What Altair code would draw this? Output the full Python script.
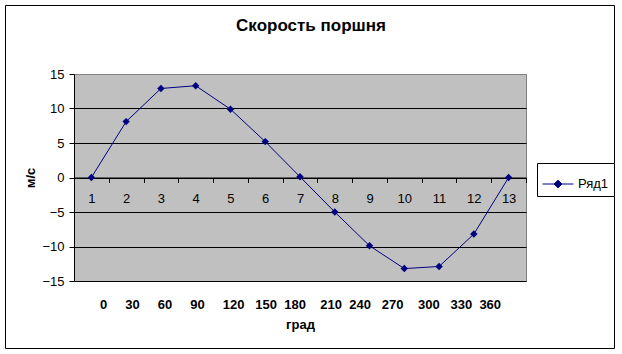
import altair as alt
import pandas as pd

# ---- data ----
categories = list(range(1, 14))
velocity = [0, 8.1, 12.9, 13.3, 9.9, 5.2, 0.1, -5.0, -9.9, -13.2, -12.9, -8.2, 0]
series_name = "Ряд1"
y_ticks = [-15, -10, -5, 0, 5, 10, 15]
deg_labels = ["0", "30", "60", "90", "120", "150", "180", "210", "240", "270", "300", "330", "360"]
deg_gaps = [5, 5, 5, 5, 3, 2, 4, 2, 3, 4, 3, 2]
chart_title = "Скорость поршня"
y_title = "м/с"
x_unit = "град"

NB = "\u00a0"
deg_line = deg_labels[0]
for g, lab in zip(deg_gaps, deg_labels[1:]):
    deg_line += NB * g + lab

df = pd.DataFrame({"n": categories, "v": velocity, "s": [series_name] * len(categories)})

FONT = "Liberation Sans"
NAVY = "#000080"
W, H = 452, 207

x_enc = alt.X(
    "n:O",
    scale=alt.Scale(type="band", paddingInner=0, paddingOuter=0),
    axis=alt.Axis(
        title=[deg_line, x_unit], offset=-H / 2, labelAngle=0, tickBand="extent",
        tickSize=5, tickColor="black", domainColor="black", labelPadding=10,
        labelFontSize=13, labelColor="black", labelFont=FONT,
        titleFont=FONT, titleFontSize=13, titleFontWeight="bold", titleColor="black",
        titleX=W / 2, titleY=121, titleBaseline="top", titleLineHeight=20, titleAlign="center",
        grid=False,
    ),
)
y_enc = alt.Y(
    "v:Q",
    scale=alt.Scale(domain=[-15, 15], nice=False, zero=False),
    axis=alt.Axis(
        values=y_ticks, title=y_title, grid=True,
        gridColor={"condition": {"test": "datum.value === 15", "value": "#808080"}, "value": "black"},
        gridWidth=1,
        tickSize=5, tickColor="black", domainColor="black", labelPadding=5,
        labelFontSize=13, labelColor="black", labelFont=FONT,
        titleFont=FONT, titleFontSize=13, titleFontWeight="bold", titleColor="black",
        titleX=-44, titleY=H / 2, titleAngle=270, titleAlign="center", titleBaseline="middle",
    ),
)
color_enc = alt.Color(
    "s:N",
    scale=alt.Scale(range=[NAVY]),
    legend=alt.Legend(
        title=None, orient="none", legendX=463, legendY=89, strokeColor="black",
        fillColor="white", padding=5, cornerRadius=0,
        symbolType="M-1,0H1M0,-0.25L0.25,0L0,0.25L-0.25,0Z", symbolSize=961,
        symbolStrokeColor=NAVY, symbolFillColor=NAVY, symbolStrokeWidth=1,
        labelFontSize=13, labelFont=FONT, labelColor="black", labelOffset=4,
    ),
)

base = alt.Chart(df).encode(x=x_enc, y=y_enc, color=color_enc)
line = base.mark_line(strokeWidth=1)
pts = base.mark_point(shape="diamond", filled=True, size=55, opacity=1)

frame = alt.Chart(pd.DataFrame({"a": [0]})).mark_rect(
    filled=False, stroke="black", strokeWidth=1, fill=None
).encode(x=alt.value(-68.5), x2=alt.value(540.5), y=alt.value(-68.5), y2=alt.value(274.5))

chart = (
    alt.layer(line, pts, frame)
    .properties(
        width=W, height=H,
        padding={"left": 74, "top": 74, "right": 96, "bottom": 73},
        autosize="none",
        background="white",
        title=alt.TitleParams(chart_title, font=FONT, fontSize=17, fontWeight="bold",
                              color="black", anchor="middle", dx=11, offset=-29.5),
    )
    .configure_view(fill="#C0C0C0", stroke="#808080", strokeWidth=1)
)

chart.save("out.html", embed_options={"renderer": "svg", "actions": False})
